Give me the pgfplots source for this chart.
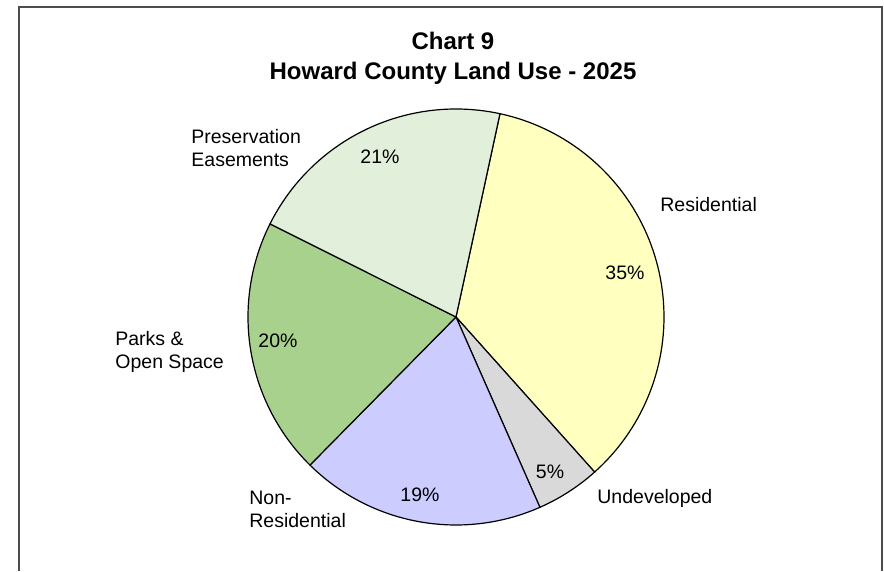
\documentclass[border=0pt]{standalone}
\usepackage{pgfplots}
\pgfplotsset{compat=1.18}
\usepackage{fontspec}
\setmainfont{Liberation Sans}
\definecolor{cRes}{HTML}{FFFFC0}
\definecolor{cUnd}{HTML}{D9D9D9}
\definecolor{cNon}{HTML}{CCCCFF}
\definecolor{cPark}{HTML}{A9D18E}
\definecolor{cPres}{HTML}{E2EFDA}
% slice values (percent), clockwise from the first slice
\def\vRes{35}
\def\vUnd{5}
\def\vNon{19}
\def\vPark{20}
\def\vPres{21}
\def\startangle{77.8}
\pgfmathsetmacro\aA{\startangle}
\pgfmathsetmacro\aB{\aA-3.6*\vRes}
\pgfmathsetmacro\aC{\aB-3.6*\vUnd}
\pgfmathsetmacro\aD{\aC-3.6*\vNon}
\pgfmathsetmacro\aE{\aD-3.6*\vPark}
\pgfmathsetmacro\aF{\aE-3.6*\vPres}
\def\cx{456}
\def\cy{254}
\def\rr{208}
\begin{document}
\begin{tikzpicture}
\begin{axis}[
  scale only axis, width=442pt, height=285.5pt,
  xmin=0, xmax=884, ymin=0, ymax=571,
  hide axis, clip=false,
]
\path (axis cs:0,0) (axis cs:884,571);
\foreach \a/\b/\c in {\aB/\aA/cRes, \aC/\aB/cUnd, \aD/\aC/cNon, \aE/\aD/cPark, \aF/\aE/cPres}{
  \edef\temp{\noexpand\addplot[fill=\c, draw=black, line width=0.6pt, domain=\a:\b, samples=80, variable=\noexpand\t]
    ({\cx+\rr*cos(\noexpand\t)},{\cy+\rr*sin(\noexpand\t)}) -- (axis cs:\cx,\cy) -- cycle;}
  \temp
}
% frame
\draw[line width=0.8pt, black!70] (axis cs:19,0) -- (axis cs:19,564) -- (axis cs:882,564) -- (axis cs:882,0);
% title
\node[align=center, font=\bfseries\fontsize{12}{15}\selectfont] at (axis cs:453,513) {Chart 9\\Howard County Land Use - 2025};
% labels
\begin{scope}[every node/.style={font=\fontsize{9.75}{11.5}\selectfont}]
\node at (axis cs:625,298) {35\%};
\node at (axis cs:380,414) {21\%};
\node at (axis cs:278,230) {20\%};
\node at (axis cs:420,76) {19\%};
\node at (axis cs:550,99) {5\%};
\end{scope}
\begin{scope}[every node/.style={font=\fontsize{9.75}{11.5}\selectfont, inner xsep=0pt, anchor=west, align=left}]
\node at (axis cs:660,366) {Residential};
\node at (axis cs:597,73) {Undeveloped};
\node at (axis cs:191,422.5) {Preservation\\Easements};
\node at (axis cs:115,219.5) {Parks \&\\Open Space};
\node at (axis cs:249,61.5) {Non-\\Residential};
\end{scope}
\end{axis}
\end{tikzpicture}
\end{document}
